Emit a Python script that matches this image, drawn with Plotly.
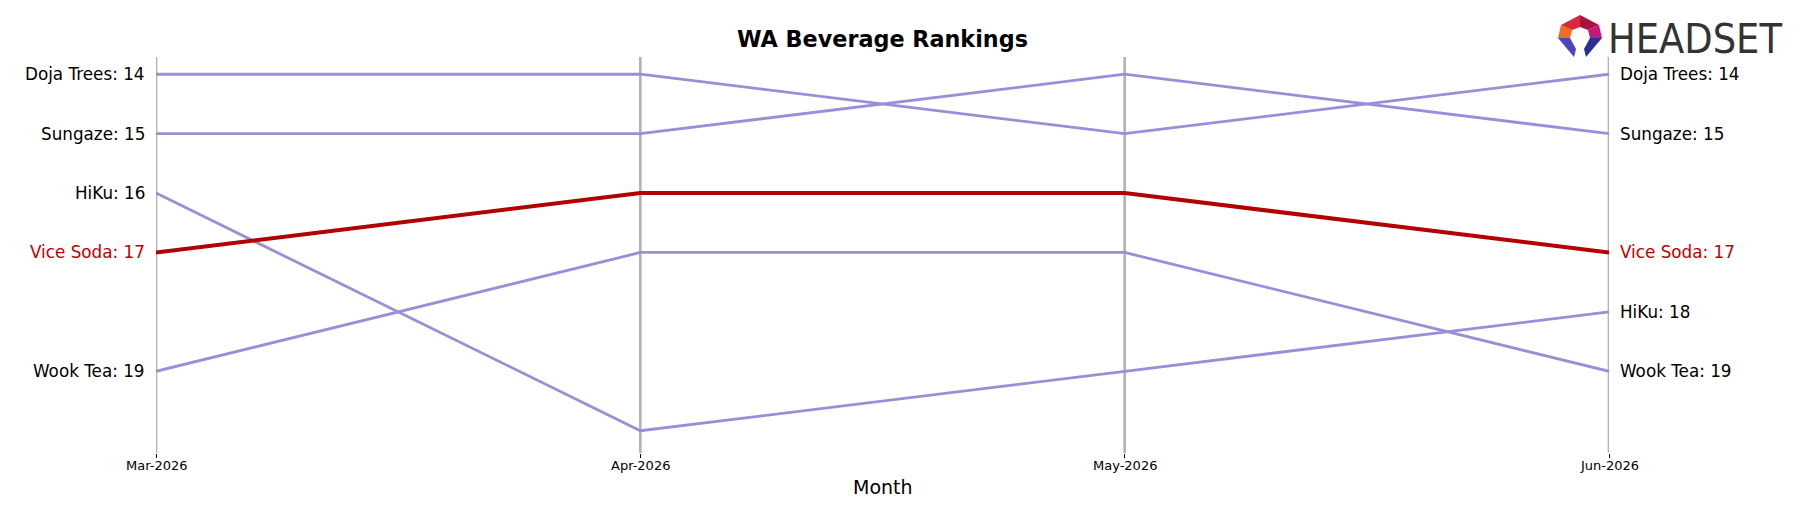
import plotly.graph_objects as go

months = ["Mar-2026", "Apr-2026", "May-2026", "Jun-2026"]
brands = ["Doja Trees", "Sungaze", "HiKu", "Vice Soda", "Wook Tea"]
doja_trees = [14, 14, 15, 14]
sungaze = [15, 15, 14, 15]
hiku = [16, 20, 19, 18]
vice_soda = [17, 16, 16, 17]
wook_tea = [19, 17, 17, 19]
ranks = [doja_trees, sungaze, hiku, vice_soda, wook_tea]
highlight = "Vice Soda"

W, H = 1793, 507
L, R, T, B = 156, 184, 57, 54
PW, PH = W - L - R, H - T - B

def px(x):
    return (x - L) / PW

def py(y):
    return (H - B - y) / PH

PURPLE = "#9b8ed9"
RED = "#b30000"
RED_TXT = "#c00000"
FONT = "DejaVu Sans"

fig = go.Figure()
xs = list(range(len(months)))

# vertical month lines
for i in xs:
    fig.add_shape(type="line", xref="x", yref="paper", x0=i, x1=i, y0=0, y1=1,
                  line=dict(color="#b4b4b4", width=2.7), layer="below")
    fig.add_annotation(x=i, y=py(465), xref="x", yref="paper", text=months[i],
                       showarrow=False, xanchor="center", yanchor="middle",
                       font=dict(size=13, color="black", family=FONT))

order = [i for i, b in enumerate(brands) if b != highlight] + [brands.index(highlight)]
for i in order:
    b = brands[i]
    hl = b == highlight
    fig.add_trace(go.Scatter(x=xs, y=ranks[i], mode="lines", name=b,
                             line=dict(color=RED if hl else PURPLE, width=4 if hl else 2.8),
                             showlegend=False, hoverinfo="skip"))
    fig.add_annotation(x=0, y=ranks[i][0], xref="x", yref="y", text=f"{b}: {ranks[i][0]}",
                       showarrow=False, xanchor="right", yanchor="middle", xshift=-9,
                       font=dict(size=16.8, color=RED_TXT if hl else "black", family=FONT))
    fig.add_annotation(x=len(months) - 1, y=ranks[i][-1], xref="x", yref="y", text=f"{b}: {ranks[i][-1]}",
                       showarrow=False, xanchor="left", yanchor="middle", xshift=9,
                       font=dict(size=16.8, color=RED_TXT if hl else "black", family=FONT))

# title
fig.add_annotation(xref="paper", yref="paper", x=0.5, y=py(38.5), text="<b>WA Beverage Rankings</b>",
                   showarrow=False, xanchor="center", yanchor="middle",
                   font=dict(size=22.3, color="black", family=FONT))
# x title
fig.add_annotation(xref="paper", yref="paper", x=0.5, y=py(487), text="Month",
                   showarrow=False, xanchor="center", yanchor="middle",
                   font=dict(size=19, color="black", family=FONT))

# logo
outer = [(1574, 57), (1558, 38), (1561, 25), (1580, 15), (1599, 25), (1602, 38), (1586, 57)]
inner = [(1576, 49), (1570, 38), (1572, 30), (1580, 27), (1588, 30), (1590, 38), (1584, 49)]
seg_colors = ["#4b45c0", "#f26b21", "#dd263d", "#a8123f", "#c4177f", "#2b2f96"]
for k, c in enumerate(seg_colors):
    pts = [outer[k], outer[k + 1], inner[k + 1], inner[k]]
    path = "M " + " L ".join(f"{px(a):.5f},{py(b):.5f}" for a, b in pts) + " Z"
    fig.add_shape(type="path", xref="paper", yref="paper", path=path,
                  fillcolor=c, line=dict(width=0), layer="above")
fig.add_annotation(xref="paper", yref="paper", x=px(1695), y=py(39), text="HEADSET",
                   showarrow=False, xanchor="center", yanchor="middle",
                   font=dict(size=41, color="#333333",
                             family="DejaVu Sans Condensed, Liberation Sans Narrow, Roboto Condensed, sans-serif"))

fig.update_layout(
    width=W, height=H,
    margin=dict(l=L, r=R, t=T, b=B),
    plot_bgcolor="white", paper_bgcolor="white",
    xaxis=dict(range=[0, len(months) - 1], tickvals=xs, ticktext=months, showgrid=False,
               zeroline=False, showline=False, ticks="outside", ticklen=4, tickcolor="black",
               tickwidth=1, showticklabels=False),
    yaxis=dict(range=[20.375, 13.71], visible=False, showgrid=False, zeroline=False),
)

fig.write_html("out.html")
